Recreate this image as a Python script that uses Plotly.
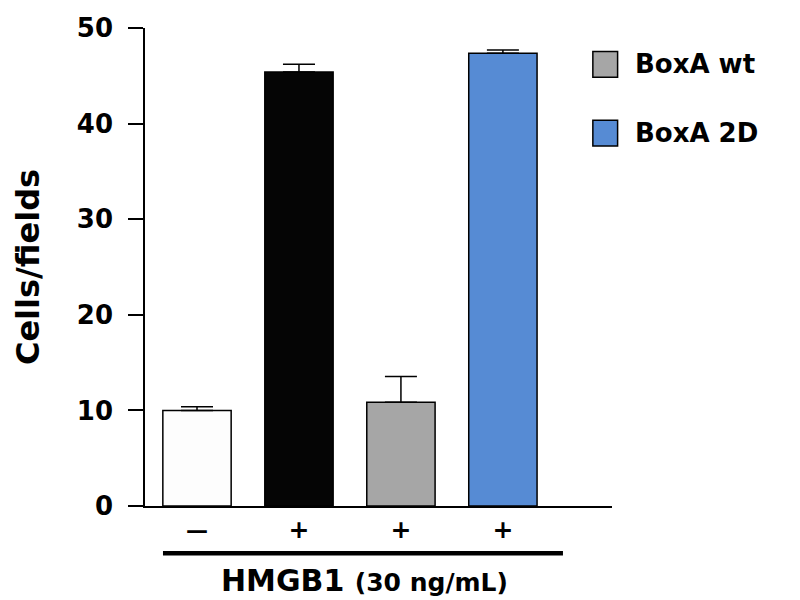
import plotly.graph_objects as go

# Data
groups = ["Control", "HMGB1", "HMGB1 + BoxA wt", "HMGB1 + BoxA 2D"]
hmgb1_marks = ["<span style='font-size:22px'>\u2014</span>", "+", "+", "+"]
cells = [10.0, 45.4, 10.85, 47.35]
cells_err = [0.37, 0.8, 2.7, 0.35]
bar_colors = ["#fdfdfd", "#050505", "#a6a6a6", "#568bd4"]
legend_labels = ["BoxA wt", "BoxA 2D"]
legend_colors = ["#a6a6a6", "#568bd4"]

font = "DejaVu Sans, Arial, sans-serif"

fig = go.Figure()
fig.add_trace(go.Bar(
    x=groups, y=cells, width=0.67,
    marker=dict(color=bar_colors, line=dict(color="black", width=1.5)),
    error_y=dict(type="data", array=cells_err, arrayminus=[0] * len(cells),
                 symmetric=False, color="black", thickness=1.5, width=16),
    showlegend=False,
))

# Thick bracket line under the +/- row and its label
fig.add_shape(type="line", xref="paper", yref="paper",
              x0=0.0385, x1=0.895, y0=-0.099, y1=-0.099,
              line=dict(color="black", width=4.5))
fig.add_annotation(xref="paper", yref="paper", x=0.469, y=-0.155,
                   text="HMGB1 <span style='font-size:25px'>(30 ng/mL)</span>",
                   showarrow=False, xanchor="center", yanchor="middle",
                   font=dict(family=font, size=30, color="black", weight="bold"))

# Hand-made legend with square swatches
legend_y = [0.924, 0.780]
for label, colour, yc in zip(legend_labels, legend_colors, legend_y):
    fig.add_shape(type="rect", xref="paper", yref="paper",
                  x0=0.959, x1=1.012, y0=yc - 0.027, y1=yc + 0.027,
                  fillcolor=colour, line=dict(color="black", width=1.5))
    fig.add_annotation(xref="paper", yref="paper", x=1.045, y=yc,
                       text=label, showarrow=False,
                       xanchor="left", yanchor="middle",
                       font=dict(family=font, size=26, color="black", weight="bold"))

fig.update_layout(
    width=800, height=600,
    margin=dict(l=137, r=196, t=20, b=102),
    plot_bgcolor="white", paper_bgcolor="white",
    font=dict(family=font, color="black"),
)
fig.update_xaxes(
    range=[-0.51, 4.07], tickvals=groups, ticktext=hmgb1_marks,
    showline=True, linecolor="black", linewidth=1.5, ticks="",
    tickfont=dict(family=font, size=25, weight="bold"),
    showgrid=False, zeroline=False, automargin=False,
)
fig.update_yaxes(
    range=[0, 50], tickvals=[0, 10, 20, 30, 40, 50],
    showline=True, linecolor="black", linewidth=1.5,
    ticks="outside", ticklen=15, tickwidth=1.5, tickcolor="black",
    ticklabelstandoff=10,
    tickfont=dict(family=font, size=26, weight="bold"),
    title=dict(text="Cells/fields", standoff=28,
               font=dict(family=font, size=32, weight="bold")),
    showgrid=False, zeroline=False, automargin=False,
)

fig.write_html("out.html")
